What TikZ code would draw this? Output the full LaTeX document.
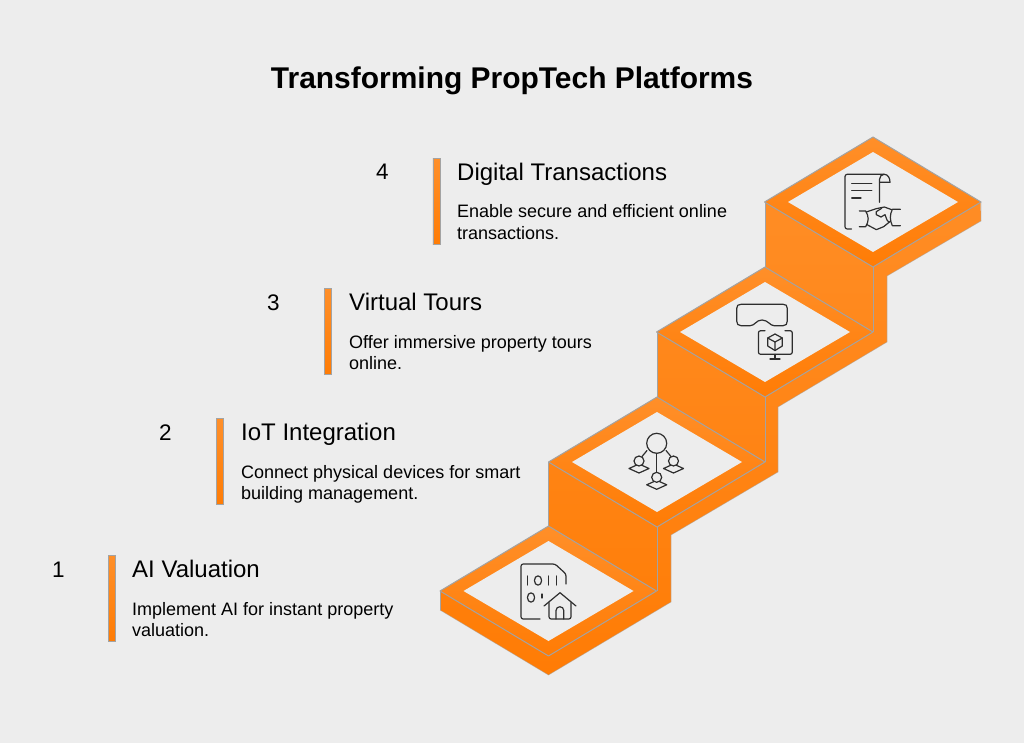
\documentclass[tikz,border=0pt]{standalone}
\usepackage{fontspec}
\setmainfont{Liberation Sans}
\definecolor{bgc}{HTML}{EDEDED}
\definecolor{edgec}{HTML}{A3A3A3}
\definecolor{inkc}{HTML}{2E2E2E}
\definecolor{oa}{HTML}{FF8F29}
\definecolor{of}{HTML}{FF7C05}
\tikzset{
  titletext/.style={anchor=base,inner sep=0pt,font=\bfseries\fontsize{29.95}{32}\selectfont,text=black},
  numtext/.style={anchor=base west,inner sep=0pt,font=\fontsize{22.5}{26}\selectfont,text=black},
  headtext/.style={anchor=base west,inner sep=0pt,font=\fontsize{24}{26}\selectfont,text=black},
  bodytext/.style={anchor=base west,inner sep=0pt,font=\fontsize{18}{21.5}\selectfont,text=black,align=left},
  barbox/.style={rectangle,minimum width=7.2pt,minimum height=86.5pt,inner sep=0pt,draw=edgec,line width=.8pt,top color=oa,bottom color=of},
  edgeline/.style={draw=edgec,line width=1pt,line join=round},
  icon/.style={draw=inkc,line width=1.2pt,line cap=round,line join=round},
}
\begin{document}
\begin{tikzpicture}[x=1pt,y=-1pt]
\useasboundingbox (0,0) rectangle (1024,743);
\fill[bgc] (0,0) rectangle (1024,743);

% walls and side strips: one gradient over the whole staircase
\begin{scope}
  \clip (440,591) -- (548.5,526) -- (548.5,462) -- (657,397) -- (657,332) -- (765,267) -- (765,202) -- (873,137) -- (980.5,202) -- (981,221) -- (887,276) -- (887,342) -- (778,407) -- (778,472) -- (671,535) -- (671,602) -- (548.5,675) -- (440,610) -- cycle;
  \shade[top color=oa,bottom color=of] (430,137) rectangle (990,675);
\end{scope}

% top faces
\foreach \cx/\cy in {548.5/591,657/462,765/332,873/202}{
  \begin{scope}[shift={(\cx,\cy)}]
    \shade[top color=oa,bottom color=of] (-108.5,0) -- (0,-65) -- (108,0) -- (0,65) -- cycle;
    \fill[bgc] (-85,0) -- (0,-50) -- (85,0) -- (0,50) -- cycle;
    \draw[edgeline] (-108.5,0) -- (0,-65) -- (108,0) -- (0,65) -- cycle;
  \end{scope}
}
% outer edges of the steps
\draw[edgeline] (548.5,462) -- (548.5,526);
\draw[edgeline] (657,332) -- (657,397);
\draw[edgeline] (765,202) -- (765,267);
\draw[edgeline] (657,527) -- (657,591);
\draw[edgeline] (765,397) -- (765,462);
\draw[edgeline] (873,267) -- (873,332);
\draw[edgeline] (440,591) -- (440,610);
\draw[draw=edgec,line width=.6pt,opacity=.55,line join=round] (440,610) -- (548.5,675) -- (671,602) -- (671,535) -- (778,472) -- (778,407) -- (887,342) -- (887,276) -- (981,221) -- (981,202);

% icon 1: document and house
\draw[icon,rounded corners=2.2pt] (540,619) -- (521,619) -- (521,564) -- (555,564) -- (566,574) -- (566,584);
\draw[icon] (527.5,576) -- (527.5,585) (548.5,576) -- (548.5,585) (556.5,576) -- (556.5,585) (542,594) -- (542,598);
\draw[icon] (538,580.5) ellipse[x radius=3.6pt,y radius=4.7pt];
\draw[icon] (531,597.5) ellipse[x radius=3.6pt,y radius=4.7pt];
\draw[icon] (544,606) -- (560,592.7) -- (576,606);
\draw[icon,rounded corners=2.2pt] (549,602.5) -- (549,619) -- (571,619) -- (571,602.5);
\draw[icon] (556,619) -- (556,610.5) .. controls (556,605.5) and (563.8,605.5) .. (563.8,610.5) -- (563.8,619);

% icon 2: hub and people
\draw[icon] (656.7,443.3) circle[radius=10pt];
\draw[icon] (656.7,453.3) -- (656.7,472.5);
\draw[icon] (647,450.5) -- (642,456.5);
\draw[icon] (666,450.5) -- (671,456.5);
\foreach \hx/\hy in {639/461,673.5/461,656.7/477.3}{
  \draw[icon] (\hx-10,\hy+7.5) -- (\hx,\hy+3) -- (\hx+10,\hy+7.5) -- (\hx,\hy+12) -- cycle;
  \draw[icon,fill=bgc] (\hx,\hy) circle[radius=5pt];
}

% icon 3: headset and monitor with cube
\draw[icon] (741,304.3) -- (783,304.3) .. controls (786,304.3) and (787.3,305.5) .. (787.3,308.5) -- (787.3,321) .. controls (787.3,324) and (786,325.7) .. (783,325.7) -- (774,325.7) .. controls (770,325.7) and (768,320) .. (762,320) .. controls (756,320) and (755,325.7) .. (750,325.7) -- (741,325.7) .. controls (738,325.7) and (736.7,324) .. (736.7,321) -- (736.7,308.5) .. controls (736.7,305.5) and (738,304.3) .. (741,304.3) -- cycle;
\draw[icon,rounded corners=2.2pt] (765,330.7) -- (758.4,330.7) -- (758.4,354.3) -- (792.3,354.3) -- (792.3,330.7) -- (785,330.7);
\draw[icon] (775,354.3) -- (775,359) (770,359) -- (780,359);
\draw[icon] (775,334) -- (782.3,338) -- (782.3,346) -- (775,350.5) -- (767.7,346) -- (767.7,338) -- cycle;
\draw[icon] (767.7,338) -- (775,342) -- (782.3,338) (775,342) -- (775,350.5);

% icon 4: contract and handshake
\draw[icon,rounded corners=2.2pt] (851.5,229) -- (845,229) -- (845,174.3) -- (884,174.3);
\draw[icon] (884,174.3) .. controls (888,174.3) and (890,178) .. (890,182.3) -- (880,182.3);
\draw[icon] (879.5,202.3) -- (879.5,179.5) .. controls (879.5,176.5) and (881.5,174.3) .. (884,174.3);
\draw[icon] (851.7,183.3) -- (871.7,183.3) (851.7,190.7) -- (871.7,190.7) (851.7,198) -- (861,198);
\begin{scope}[shift={(835,165)},x=.3333pt,y=-.3333pt]
  \draw[icon] (73,138) -- (92,138) .. controls (102,155) and (102,168) .. (92,185) -- (73,185);
  \draw[icon] (196,133) -- (172,133) .. controls (164,150) and (164,165) .. (172,182) -- (196,182);
  \draw[icon] (94,141) -- (124,131) -- (148,126) -- (170,134);
  \draw[icon] (96,179) -- (124,194) -- (146,185) -- (167,168);
  \draw[icon] (140,130) -- (124,140) -- (124,149) -- (138,156) -- (150,149) -- (156,165) -- (162,172);
\end{scope}

% texts
\node[titletext] (title) at (512,88.5) {Transforming PropTech Platforms};

\node[numtext] (n1) at (52,577.5) {1};
\node[barbox] (bar1) at (112,598.5) {};
\node[headtext] (h1) at (132,577.5) {AI Valuation};
\node[bodytext] (b1a) at (132,615) {Implement AI for instant property};
\node[bodytext] (b1b) at (132,636.5) {valuation.};

\node[numtext] (n2) at (159,440) {2};
\node[barbox] (bar2) at (220,461.5) {};
\node[headtext] (h2) at (241,440.5) {IoT Integration};
\node[bodytext] (b2a) at (241,478) {Connect physical devices for smart};
\node[bodytext] (b2b) at (241,499.5) {building management.};

\node[numtext] (n3) at (267,310) {3};
\node[barbox] (bar3) at (328,331.5) {};
\node[headtext] (h3) at (349,310.5) {Virtual Tours};
\node[bodytext] (b3a) at (349,348) {Offer immersive property tours};
\node[bodytext] (b3b) at (349,369.5) {online.};

\node[numtext] (n4) at (376,180) {4};
\node[barbox] (bar4) at (436.5,201.5) {};
\node[headtext] (h4) at (457,180.5) {Digital Transactions};
\node[bodytext] (b4a) at (457,218) {Enable secure and efficient online};
\node[bodytext] (b4b) at (457,239.5) {transactions.};
\end{tikzpicture}
\end{document}
